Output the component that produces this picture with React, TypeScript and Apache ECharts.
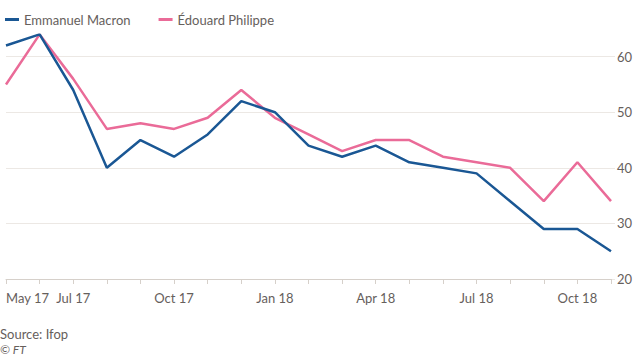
import React, { useEffect, useRef } from "react";
import * as echarts from "echarts";

const months = [
  "May 17", "Jun 17", "Jul 17", "Aug 17", "Sep 17", "Oct 17", "Nov 17", "Dec 17",
  "Jan 18", "Feb 18", "Mar 18", "Apr 18", "May 18", "Jun 18", "Jul 18", "Aug 18",
  "Sep 18", "Oct 18", "Nov 18",
];
const labeledMonths = ["May 17", "Jul 17", "Oct 17", "Jan 18", "Apr 18", "Jul 18", "Oct 18"];
const macron = [62, 64, 54, 40, 45, 42, 46, 52, 50, 44, 42, 44, 41, 40, 39, 34, 29, 29, 25];
const philippe = [55, 64, 56, 47, 48, 47, 49, 54, 49, 46, 43, 45, 45, 42, 41, 40, 34, 41, 34];
const yTicks = [20, 30, 40, 50, 60];

const FONT = "Lato";
const TEXT = "#66605c";
const GRID = "#ece8e4";

export default function App() {
  const ref = useRef<HTMLDivElement>(null);
  useEffect(() => {
    if (!ref.current) return;
    const chart = echarts.init(ref.current, null, { renderer: "svg" });
    chart.setOption({
      animation: false,
      backgroundColor: "#ffffff",
      textStyle: { fontFamily: FONT },
      legend: {
        left: 0,
        top: 8,
        itemGap: 28,
        itemWidth: 14,
        itemHeight: 3,
        icon: "rect",
        textStyle: { color: TEXT, fontSize: 13, fontFamily: FONT },
        data: ["Emmanuel Macron", "Édouard Philippe"],
      },
      grid: { left: 6, right: 29, top: 34.4, bottom: 77, containLabel: false },
      xAxis: {
        type: "category",
        data: months,
        boundaryGap: false,
        axisLine: { show: true, lineStyle: { color: "#d6d0ca", width: 1 } },
        axisTick: { show: true, interval: 0, length: 5, lineStyle: { color: "#d6d0ca" } },
        axisLabel: {
          interval: (i: number, v: string) => labeledMonths.indexOf(v) >= 0,
          color: TEXT,
          fontSize: 13,
          fontFamily: FONT,
          margin: 12,
          alignMinLabel: "left",
        },
        splitLine: { show: false },
      },
      yAxis: {
        type: "value",
        position: "right",
        min: yTicks[0],
        max: 64,
        interval: 10,
        axisLine: { show: false },
        axisTick: { show: true, length: 4, lineStyle: { color: GRID } },
        axisLabel: {
          color: TEXT,
          fontSize: 13,
          fontFamily: FONT,
          margin: 6,
          showMaxLabel: false,
        },
        splitLine: { show: true, showMaxLine: false, lineStyle: { color: GRID, width: 1 } },
      },
      series: [
        {
          name: "Emmanuel Macron",
          type: "line",
          data: macron,
          symbol: "none",
          lineStyle: { color: "#1a5794", width: 2.5 },
          itemStyle: { color: "#1a5794" },
          z: 3,
        },
        {
          name: "Édouard Philippe",
          type: "line",
          data: philippe,
          symbol: "none",
          lineStyle: { color: "#ea6b98", width: 2.5 },
          itemStyle: { color: "#ea6b98" },
          z: 2,
        },
      ],
      graphic: [
        {
          type: "text",
          left: 0,
          top: 327,
          style: { text: "Source: Ifop", fill: TEXT, fontSize: 13, fontFamily: FONT },
        },
        {
          type: "text",
          left: 0,
          top: 343,
          style: { text: "© FT", fill: TEXT, fontSize: 12, fontStyle: "italic", fontFamily: FONT },
        },
      ],
    });
    return () => chart.dispose();
  }, []);
  return (
    <div
      ref={ref}
      style={{ position: "absolute", left: 0, top: 0, width: 640, height: 356 }}
    />
  );
}
